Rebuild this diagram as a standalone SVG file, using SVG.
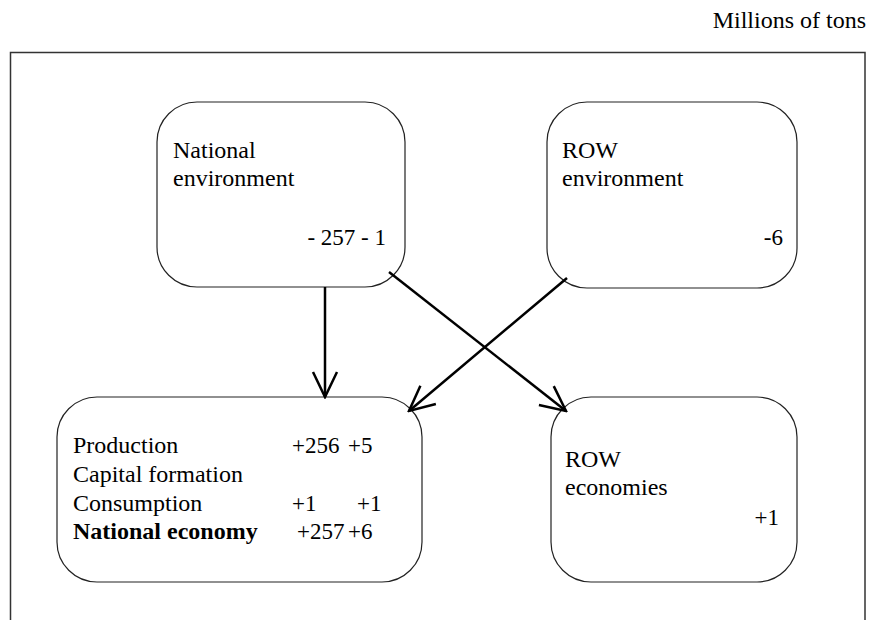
<svg xmlns="http://www.w3.org/2000/svg" width="871" height="620" viewBox="0 0 871 620">
  <style>
    .frame { fill: none; stroke: #333; stroke-width: 1.5; }
    .node rect { fill: #fff; stroke: #222; stroke-width: 1.2; }
    text { font-family: "Liberation Serif", "Times New Roman", serif; font-size: 24px; fill: #000; }
    .n { font-size: 23px; }
    .b { font-weight: bold; }
    .r { text-anchor: end; }
    .conn line { fill: none; stroke: #000; stroke-width: 2.5; }
  </style>
  <defs>
    <marker id="vhead" viewBox="0 0 30 30" refX="28" refY="15" markerWidth="30" markerHeight="30" markerUnits="userSpaceOnUse" orient="auto">
      <path d="M3,3 L28,15 L3,27" fill="none" stroke="#000" stroke-width="2.5"/>
    </marker>
  </defs>

  <rect width="871" height="620" fill="#fff"/>

  <text x="866" y="28" class="r">Millions of tons</text>

  <!-- open frame: top, left and right sides -->
  <path class="frame" d="M10.5,620 L10.5,52.5 L865,52.5 L865,620"/>

  <g id="national-environment" class="node">
    <rect x="157" y="102" width="248" height="185" rx="40" ry="40"/>
    <text x="173" y="158">National</text>
    <text x="173" y="186">environment</text>
    <text x="386" y="245" class="r n">- 257 - 1</text>
  </g>

  <g id="row-environment" class="node">
    <rect x="547" y="102" width="250" height="186" rx="40" ry="40"/>
    <text x="562" y="158">ROW</text>
    <text x="562" y="186">environment</text>
    <text x="783" y="245" class="r n">-6</text>
  </g>

  <g id="national-economy" class="node">
    <rect x="57" y="397" width="365" height="185" rx="40" ry="40"/>
    <text x="73" y="453">Production</text>
    <text x="292" y="453" class="n">+256</text>
    <text x="348" y="453" class="n">+5</text>
    <text x="73" y="482">Capital formation</text>
    <text x="73" y="511">Consumption</text>
    <text x="292" y="511" class="n">+1</text>
    <text x="357" y="511" class="n">+1</text>
    <text x="73" y="539" class="b">National economy</text>
    <text x="297" y="539" class="n">+257</text>
    <text x="348" y="539" class="n">+6</text>
  </g>

  <g id="row-economies" class="node">
    <rect x="551" y="397" width="246" height="185" rx="40" ry="40"/>
    <text x="565" y="467">ROW</text>
    <text x="565" y="495">economies</text>
    <text x="779" y="525" class="r n">+1</text>
  </g>

  <g id="connectors" class="conn">
    <line x1="325" y1="287" x2="325" y2="397" marker-end="url(#vhead)"/>
    <line x1="389" y1="272" x2="566" y2="411" marker-end="url(#vhead)"/>
    <line x1="567" y1="278" x2="409" y2="411" marker-end="url(#vhead)"/>
  </g>
</svg>
